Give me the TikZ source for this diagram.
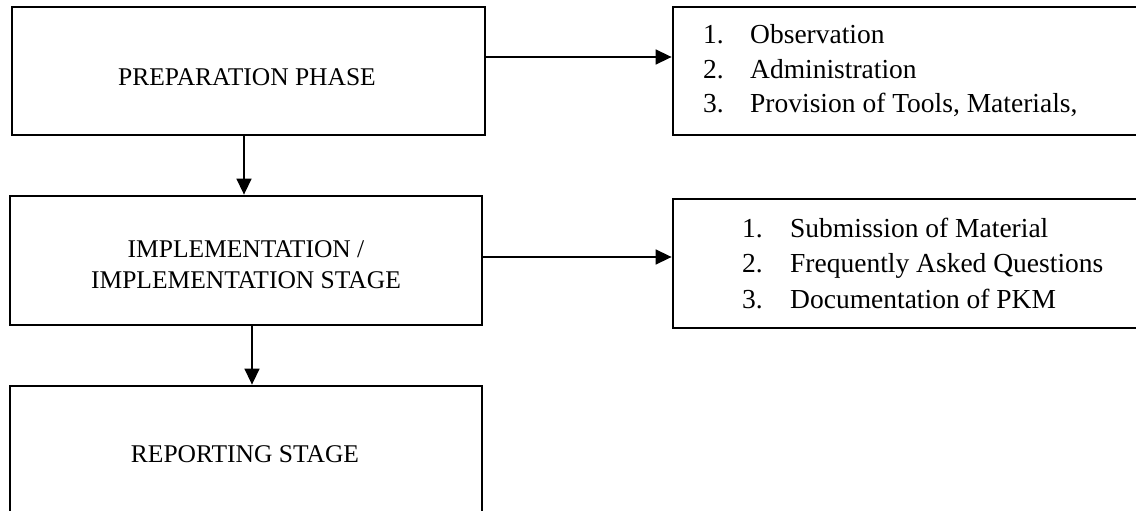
\documentclass[tikz,border=0pt]{standalone}
\usepackage{fontspec}
\setmainfont{Liberation Serif}
\usetikzlibrary{arrows.meta}
\begin{document}
\begin{tikzpicture}[x=1pt,y=-1pt,
  stagebox/.style={draw=black,line width=2.8pt,rectangle,inner sep=0pt},
  capstext/.style={font=\fontsize{25.5}{31}\selectfont,anchor=base,inner sep=0pt},
  itemtext/.style={font=\fontsize{27.5}{35}\selectfont,anchor=base west,inner sep=0pt},
  arr/.style={draw=black,line width=1.5pt,-{Triangle[length=16pt,width=15pt]}}]
\useasboundingbox (0,0) rectangle (1136,511);
\clip (0,0) rectangle (1136,511);
% left boxes
\node[stagebox,minimum width=473pt,minimum height=128pt] (prep) at (248.5,71) {};
\node[stagebox,minimum width=472pt,minimum height=129pt] (impl) at (246,260.5) {};
\node[stagebox,minimum width=472pt,minimum height=160pt] (rep) at (246,466) {};
% right boxes (open beyond the right edge)
\node[stagebox,minimum width=540pt,minimum height=128pt] (prepl) at (943,71) {};
\node[stagebox,minimum width=540pt,minimum height=129pt] (impll) at (943,263.5) {};
% texts
\node[capstext] (tprep) at (247,86) {PREPARATION PHASE};
\node[capstext] (timpla) at (246,257) {IMPLEMENTATION /};
\node[capstext] (timplb) at (246,288) {IMPLEMENTATION STAGE};
\node[capstext] (trep) at (245,462) {REPORTING STAGE};
\node[itemtext] (pa) at (703,44) {\makebox[47pt][l]{1.}Observation};
\node[itemtext] (pb) at (703,79) {\makebox[47pt][l]{2.}Administration};
\node[itemtext] (pc) at (703,113) {\makebox[47pt][l]{3.}Provision of Tools, Materials,};
\node[itemtext] (ia) at (742,237) {\makebox[48pt][l]{1.}Submission of Material};
\node[itemtext] (ib) at (742,272) {\makebox[48pt][l]{2.}Frequently Asked Questions};
\node[itemtext] (ic) at (742,308) {\makebox[48pt][l]{3.}Documentation of PKM};
% connectors
\draw[arr] ([yshift=14pt]prep.east) -- ([yshift=14pt]prep.east -| prepl.west);
\draw[arr] ([yshift=3.5pt]impl.east) -- ([yshift=3.5pt]impl.east -| impll.west);
\draw[arr] ([xshift=-4.5pt]prep.south) -- ([xshift=-4.5pt]prep.south |- impl.north);
\draw[arr] ([xshift=6pt]impl.south) -- ([xshift=6pt]impl.south |- rep.north);
\end{tikzpicture}
\end{document}
